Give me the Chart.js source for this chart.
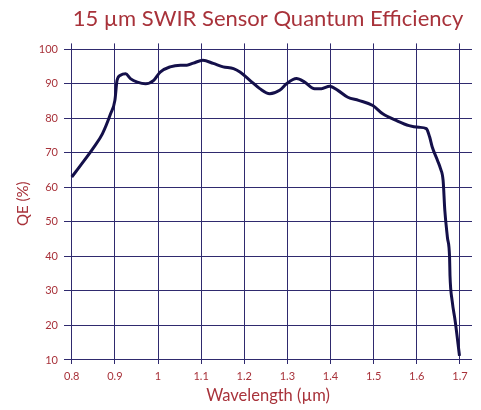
<!DOCTYPE html>
<html>
<head>
<meta charset="utf-8">
<script src="https://cdn.jsdelivr.net/npm/chart.js@4"></script>
<style>
  body { margin: 0; background: #fff; }
  #wrap { width: 481px; height: 410px; }
</style>
</head>
<body>
<div id="wrap"><canvas id="qeChart"></canvas></div>
<script>
// wavelength (um) and quantum efficiency (%)
const wavelengths = [0.8, 0.82, 0.851, 0.871, 0.89, 0.9, 0.905, 0.913, 0.925, 0.936, 0.952, 0.971, 0.99,
  1.005, 1.028, 1.052, 1.067, 1.082, 1.104, 1.128, 1.151, 1.175, 1.19, 1.213, 1.236, 1.259, 1.282,
  1.298, 1.321, 1.34, 1.363, 1.379, 1.398, 1.417, 1.44, 1.465, 1.498, 1.521, 1.552, 1.582, 1.605,
  1.622, 1.63, 1.636, 1.648, 1.655, 1.661, 1.665, 1.671, 1.676, 1.677, 1.682, 1.689, 1.699];
const qeValues = [63, 66.3, 71.6, 75.5, 81.3, 85.2, 91, 92.5, 92.9, 91.5, 90.5, 90, 91,
  93.4, 94.9, 95.4, 95.4, 96, 96.8, 95.9, 94.9, 94.4, 93.4, 91, 88.6, 87.1, 88.1,
  90, 91.5, 90.5, 88.6, 88.6, 89.3, 88.1, 86.1, 85.2, 83.7, 81.3, 79.4, 77.9, 77.4,
  77, 74.5, 71.6, 67.8, 65.4, 62, 53.3, 45.5, 39.7, 34.4, 27.1, 21.3, 11.2];
const xTicks = [0.8, 0.9, 1, 1.1, 1.2, 1.3, 1.4, 1.5, 1.6, 1.7];
const yTicks = [10, 20, 30, 40, 50, 60, 70, 80, 90, 100];

const red = '#a8323a';
const gridColor = '#2f2a6e';

const points = wavelengths.map((w, i) => ({ x: w, y: qeValues[i] }));

new Chart(document.getElementById('qeChart'), {
  type: 'line',
  data: {
    datasets: [{
      data: points,
      borderColor: '#14104a',
      borderWidth: 3,
      pointRadius: 0,
      fill: false,
      tension: 0.4,
      cubicInterpolationMode: 'monotone'
    }]
  },
  options: {
    responsive: true,
    maintainAspectRatio: false,
    animation: false,
    layout: { padding: { right: 9, top: 0 } },
    plugins: {
      legend: { display: false },
      tooltip: { enabled: false },
      title: {
        display: true,
        text: '15 µm SWIR Sensor Quantum Efficiency',
        color: red,
        fullSize: false,
        font: { family: 'Lato', size: 22, weight: 'normal' },
        padding: { top: 6, bottom: 11 }
      }
    },
    scales: {
      x: {
        type: 'linear',
        min: 0.782,
        max: 1.728,
        afterBuildTicks: s => { s.ticks = xTicks.map(v => ({ value: v })); },
        afterFit: s => { s.height = 46; },
        grid: { color: gridColor, lineWidth: 1, drawTicks: false },
        border: { display: false },
        ticks: { color: red, font: { family: 'Lato', size: 11 }, padding: 6, callback: v => v },
        title: { display: true, text: 'Wavelength (µm)', color: red, font: { family: 'Lato', size: 16.5 }, padding: { top: 7 } }
      },
      y: {
        min: 8.84,
        max: 101.7,
        afterBuildTicks: s => { s.ticks = yTicks.map(v => ({ value: v })); },
        afterFit: s => { s.width = 64; },
        grid: { color: gridColor, lineWidth: 1, drawTicks: false },
        border: { display: false },
        ticks: { color: red, font: { family: 'Lato', size: 11 }, padding: 6 },
        title: { display: true, text: 'QE (%)', color: red, font: { family: 'Lato', size: 15 }, padding: { top: 14, bottom: 8 } }
      }
    }
  }
});
</script>
</body>
</html>
